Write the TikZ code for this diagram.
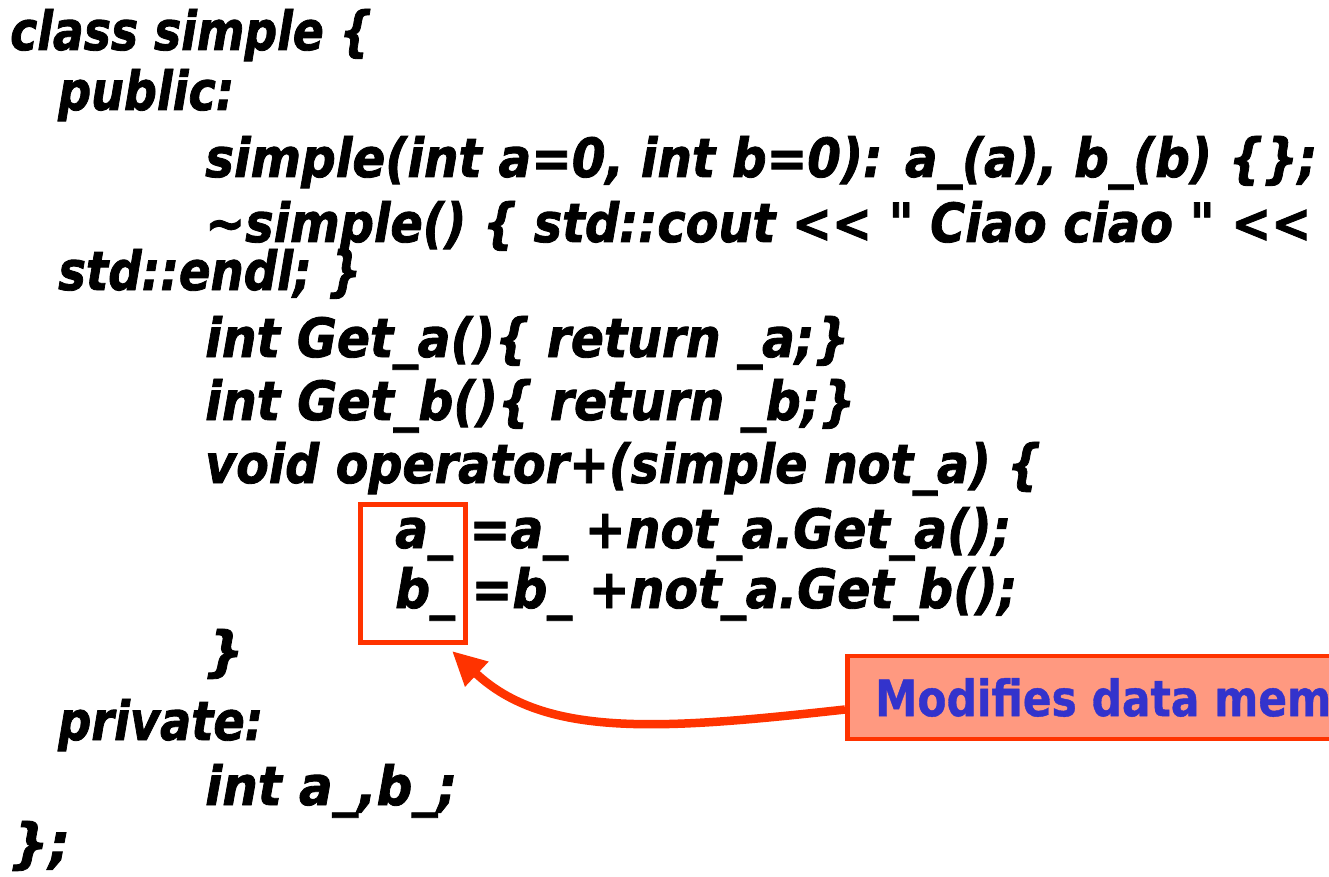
\documentclass[tikz,border=0pt]{standalone}
\usepackage{fontspec}
\usepackage{graphicx}
\newfontfamily\codefont{DejaVu Sans Bold Oblique}[FakeBold=1.6]
\newfontfamily\notefont{DejaVu Sans Bold}[FakeBold=0.8]
\definecolor{hired}{HTML}{FF3300}
\definecolor{notefill}{HTML}{FF9980}
\definecolor{noteblue}{HTML}{3333CC}
\newcommand\fitto[2]{\setbox0=\hbox{#2}\scalebox{\fpeval{(#1)/\wd0}}[1]{\box0}}
\tikzset{
  code/.style={anchor=base west, inner sep=0pt, font=\codefont\fontsize{54}{60}\selectfont, text=black},
  hlbox/.style={draw=hired, line width=5pt, minimum width=105pt, minimum height=138pt, inner sep=0pt},
  notebox/.style={draw=hired, fill=notefill, line width=4.5pt, anchor=west, minimum height=83pt,
    inner xsep=28pt, inner ysep=0pt, text=noteblue, font=\notefont\fontsize{50}{55}\selectfont},
  callarrow/.style={draw=hired, line width=8.5pt, -{Triangle[length=34pt,width=32pt]}},
}
\usetikzlibrary{arrows.meta}
\begin{document}
\begin{tikzpicture}[x=1pt,y=-1pt]
\path[use as bounding box] (0,0) rectangle (1329,877);
\clip (0,0) rectangle (1329,877);
\node[code] (l1) at (10,50) {\fitto{362pt}{class simple \{}};
\node[code] (l2) at (58,110) {\fitto{176pt}{public:}};
\node[code] (l3) at (205,177) {\fitto{1112pt}{simple(int a=0, int b=0): a\_(a), b\_(b) \{\};}};
\node[code] (l4) at (205,242) {\fitto{1106pt}{\textasciitilde simple() \{ std::cout << " Ciao ciao " <<}};
\node[code] (l5) at (58,290) {\fitto{303pt}{std::endl; \}}};
\node[code] (l6) at (205,357) {\fitto{644pt}{int Get\_a()\{ return \_a;\}}};
\node[code] (l7) at (205,420) {\fitto{650pt}{int Get\_b()\{ return \_b;\}}};
\node[code] (l8) at (205,483) {\fitto{836pt}{void operator+(simple not\_a) \{}};
\node[code] (l9) at (395,548) {\fitto{616pt}{a\_ =a\_ +not\_a.Get\_a();}};
\node[code] (l10) at (395,608) {\fitto{622pt}{b\_ =b\_ +not\_a.Get\_b();}};
\node[code] (l11) at (205,670) {\}};
\node[code] (l12) at (58,740) {\fitto{205pt}{private:}};
\node[code] (l13) at (205,805) {\fitto{252pt}{int a\_,b\_;}};
\node[code] (l14) at (10,862) {\};};
\node[hlbox] (hl) at (413,573.5) {};
\node[notebox] (note) at (845,697.5) {\fitto{456pt}{Modifies data mem}};
\coordinate (tip) at ([xshift=-16pt,yshift=-6pt]hl.south east);
\draw[callarrow] ([yshift=-12pt]note.west) .. controls (660,730) and (545,738) .. (tip);
\end{tikzpicture}
\end{document}
